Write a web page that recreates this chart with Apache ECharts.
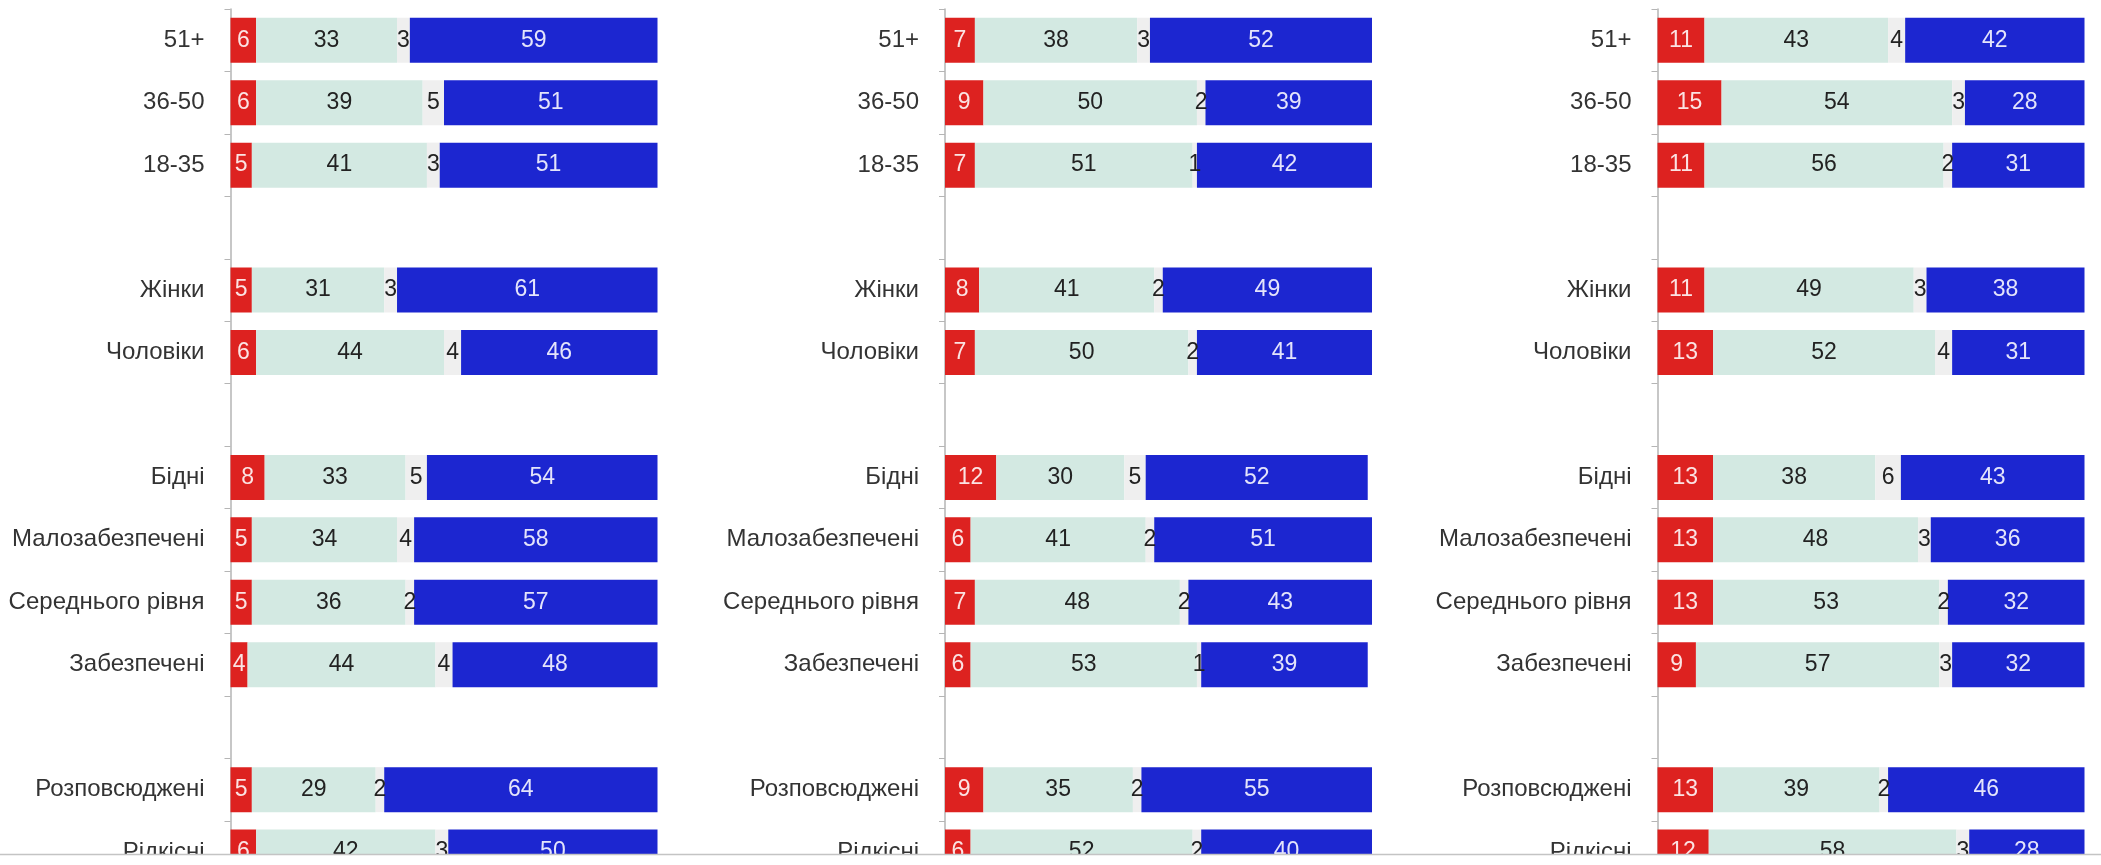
<!DOCTYPE html>
<html>
<head>
<meta charset="utf-8">
<script src="https://cdn.jsdelivr.net/npm/echarts@6/dist/echarts.min.js"></script>
<style>
  html, body { margin: 0; padding: 0; background: #fff; }
  #chart { width: 2101px; height: 865px; }
</style>
</head>
<body>
<div id="chart"></div>
<script>
// Group labels (blank entries separate the groups)
const categories = ['51+', '36-50', '18-35', ' ', 'Жінки', 'Чоловіки', '  ',
  'Бідні', 'Малозабезпечені', 'Середнього рівня', 'Забезпечені', '   ',
  'Розповсюджені', 'Рідкісні'];

// Panel 1 shares, %
const p1Red   = [6, 6, 5, null, 5, 6, null, 8, 5, 5, 4, null, 5, 6];
const p1Light = [33, 39, 41, null, 31, 44, null, 33, 34, 36, 44, null, 29, 42];
const p1Gray  = [3, 5, 3, null, 3, 4, null, 5, 4, 2, 4, null, 2, 3];
const p1Blue  = [59, 51, 51, null, 61, 46, null, 54, 58, 57, 48, null, 64, 50];

// Panel 2 shares, %
const p2Red   = [7, 9, 7, null, 8, 7, null, 12, 6, 7, 6, null, 9, 6];
const p2Light = [38, 50, 51, null, 41, 50, null, 30, 41, 48, 53, null, 35, 52];
const p2Gray  = [3, 2, 1, null, 2, 2, null, 5, 2, 2, 1, null, 2, 2];
const p2Blue  = [52, 39, 42, null, 49, 41, null, 52, 51, 43, 39, null, 55, 40];

// Panel 3 shares, %
const p3Red   = [11, 15, 11, null, 11, 13, null, 13, 13, 13, 9, null, 13, 12];
const p3Light = [43, 54, 56, null, 49, 52, null, 38, 48, 53, 57, null, 39, 58];
const p3Gray  = [4, 3, 2, null, 3, 4, null, 6, 3, 2, 3, null, 2, 3];
const p3Blue  = [42, 28, 31, null, 38, 31, null, 43, 36, 32, 32, null, 46, 28];

const panels = [
  [p1Red, p1Light, p1Gray, p1Blue],
  [p2Red, p2Light, p2Gray, p2Blue],
  [p3Red, p3Light, p3Gray, p3Blue]
];

const FONT = "'Liberation Sans', Arial, Helvetica, sans-serif";
const segColors = ['#dd2220', '#d3e9e2', '#efefef', '#1c26d0'];
const segText = ['#fbe3e3', '#222', '#222', '#e4e4fb'];
const gridLefts = [230.5, 945, 1657.5];
const ROW = 62.45;

const grids = [], xAxes = [], yAxes = [], series = [];
panels.forEach((panel, i) => {
  grids.push({
    left: gridLefts[i], width: 427, top: 9, height: ROW * categories.length,
    outerBoundsMode: 'none', containLabel: false
  });
  xAxes.push({
    type: 'value', gridIndex: i, min: 0, max: 100, show: false
  });
  yAxes.push({
    type: 'category', gridIndex: i, inverse: true, data: categories,
    axisLine: { lineStyle: { color: '#b5b5b5', width: 1.5 } },
    axisTick: { show: true, length: 6, interval: 0, lineStyle: { color: '#b5b5b5' } },
    axisLabel: { color: '#333', fontSize: 24, fontFamily: FONT, margin: 26, interval: 0 }
  });
  panel.forEach((vals, k) => {
    series.push({
      type: 'bar', xAxisIndex: i, yAxisIndex: i, stack: 'panel' + i,
      data: vals, barWidth: 45,
      itemStyle: { color: segColors[k] },
      label: {
        show: true, position: 'inside', color: segText[k],
        fontSize: 23, fontFamily: FONT,
        formatter: p => (p.value == null ? '' : String(p.value))
      },
      emphasis: { disabled: true },
      silent: true
    });
  });
});

const chart = echarts.init(document.getElementById('chart'));
chart.setOption({
  animation: false,
  backgroundColor: '#fff',
  grid: grids,
  xAxis: xAxes,
  yAxis: yAxes,
  series: series,
  graphic: [
    { type: 'rect', z: 100, shape: { x: 0, y: 855, width: 2101, height: 10 }, style: { fill: '#fff' } },
    { type: 'line', z: 101, shape: { x1: 0, y1: 854.5, x2: 2101, y2: 854.5 }, style: { stroke: '#c4c4c4', lineWidth: 1.5 } }
  ]
});
</script>
</body>
</html>
